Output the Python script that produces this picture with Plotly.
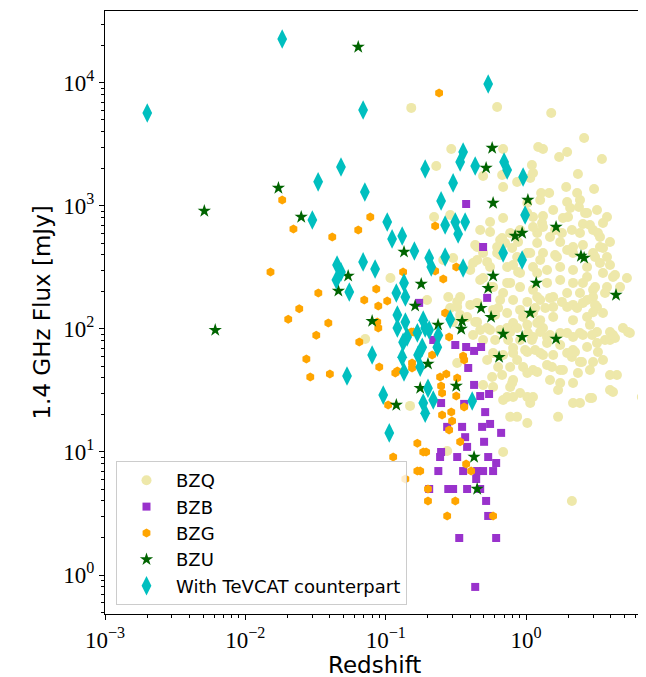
import plotly.graph_objects as go

# ---------------- data ----------------
bzq_z = [0.152, 0.622, 1.51, 2.59, 1.32, 1.72, 1.96, 3.47, 0.293, 0.229, 0.686, 1.22, 1.10, 0.494, 0.675,
         0.686, 0.863, 1.07, 2.34, 1.93, 3.05, 1.28, 1.46, 2.31, 1.12, 1.02, 1.26, 1.56, 1.96, 2.42,
         3.20, 3.77, 3.53, 2.72, 1.99, 1.61, 1.12, 1.30, 0.906, 1.20, 1.48, 1.80, 2.12, 2.42, 3.00,
         3.36, 3.96, 0.471, 0.554, 0.653, 0.770, 0.622, 0.795, 0.221, 0.288, 0.686, 1.02, 2.06, 2.38, 2.63,
         1.32, 1.12, 1.32, 1.83, 2.54, 2.85, 3.25, 0.448, 0.709, 0.877, 1.20, 1.75, 2.16, 2.54, 3.36,
         0.554, 0.675, 1.02, 1.32, 1.66, 1.96, 2.16, 3.00, 3.53, 3.77, 3.36, 2.72, 2.16, 1.75, 1.41,
         1.12, 0.906, 0.733, 0.554, 0.494, 0.448, 0.400, 0.471, 0.582, 0.733, 0.906, 1.12, 1.41, 1.75, 2.16,
         2.72, 3.53, 4.16, 5.23, 4.67, 3.77, 3.00, 2.42, 1.96, 1.56, 1.26, 1.02, 0.808, 0.653, 0.686,
         0.339, 0.279, 0.108, 0.197, 0.434, 0.419, 0.528, 0.653, 0.808, 0.877, 1.20, 0.770, 0.863, 1.07, 0.622,
         0.494, 0.554, 1.61, 1.26, 4.30, 3.96, 3.10, 2.54, 3.10, 0.323, 0.257, 0.302, 0.323, 0.448, 0.582,
         0.733, 0.906, 1.56, 1.96, 2.54, 3.20, 3.53, 2.72, 2.16, 1.56, 1.26, 1.02, 0.808, 0.653, 0.528,
         0.448, 0.380, 4.90, 3.96, 3.20, 2.42, 1.96, 5.49, 3.65, 3.00, 1.80, 2.16, 2.72, 3.10, 1.20,
         1.48, 1.37, 1.16, 2.31, 3.00, 2.85, 1.32, 1.12, 1.41, 2.16, 2.95, 3.65, 4.30, 5.32, 0.632,
         0.602, 0.952, 1.12, 1.20, 0.863, 0.733, 0.554, 0.471, 0.419, 0.494, 0.602, 0.745, 0.906, 1.10, 0.808,
         0.984, 1.16, 0.400, 0.339, 0.288, 0.434, 0.302, 1.41, 1.75, 2.16, 2.72, 3.20, 3.96, 0.0714, 0.770,
         1.03, 1.26, 1.48, 1.75, 2.54, 4.16, 0.686, 0.582, 0.528, 0.632, 0.770, 0.952, 1.12, 0.573, 0.675,
         0.808, 1.02, 0.770, 0.906, 1.02, 1.07, 0.733, 0.494, 0.582, 1.32, 2.12, 2.23, 2.50, 3.00, 3.25,
         1.53, 1.83, 2.34, 4.44, 1.48, 1.75, 2.16, 1.69, 3.96, 4.16, 2.85, 2.16, 2.42, 6.68, 1.69,
         1.12, 0.808, 1.02, 1.26, 1.56, 1.96, 2.42, 3.53, 0.863, 1.41, 1.75, 2.85, 3.96, 1.20, 0.795,
         0.686, 0.808, 2.95, 0.770, 0.863, 1.02, 0.323, 0.149, 0.274, 0.686, 2.12]
bzq_flux = [6270, 6380, 5700, 3570, 2905, 2500, 2750, 2410, 2905, 2115, 2905, 3020, 2155, 1753, 1787,
            1427, 1567, 1690, 1820, 1427, 1375, 1275, 1275, 1275, 1855, 1057, 1120, 928, 1078, 1120,
            928, 814, 727, 877, 814, 638, 814, 727, 638, 603, 560, 603, 638, 603, 638,
            560, 510, 638, 741, 529, 603, 464, 456, 814, 845, 799, 877, 963, 981, 877,
            829, 675, 675, 799, 714, 701, 603, 464, 500, 510, 500, 510, 464, 482, 464,
            615, 549, 415, 415, 385, 439, 415, 415, 456, 385, 344, 319, 302, 319, 302,
            319, 285, 319, 319, 415, 364, 302, 250, 219, 237, 219, 208, 237, 250, 237,
            265, 285, 265, 260, 219, 219, 208, 196, 196, 182, 172, 166, 172, 172, 196,
            182, 182, 260, 172, 482, 344, 351, 400, 331, 291, 285, 237, 385, 415, 415,
            260, 219, 400, 364, 275, 331, 385, 237, 219, 166, 364, 378, 151, 163, 143,
            135, 143, 151, 151, 163, 151, 135, 125, 118, 125, 118, 108, 112, 98, 102,
            114, 125, 102, 94.6, 94.6, 92.7, 92.7, 92.7, 196, 182, 166, 157, 172, 157, 182,
            179, 148, 148, 148, 137, 108, 102, 86, 86, 86, 89.3, 81.4, 84.5, 94.6, 148,
            130, 125, 135, 112, 102, 102, 98, 98, 89.3, 81.4, 81.4, 81.4, 81.4, 81.4, 70.1,
            67.5, 67.5, 157, 130, 148, 114, 114, 76.9, 74.1, 67.5, 71.4, 76.9, 81.4, 83, 94.6,
            92.7, 94.6, 89.3, 92.7, 89.3, 89.3, 61.5, 63.8, 56, 49.1, 49.1, 49.1, 46.4, 40.7, 42.3,
            38.5, 43.9, 33.8, 30.2, 28.0, 25.0, 28.0, 35.1, 33.8, 61.5, 59.2, 65.0, 53.9, 53.9, 65.0,
            49.1, 46.4, 43.9, 42.3, 38.5, 36.4, 36.4, 31.9, 31.9, 30.7, 27.5, 25.0, 25.0, 28.0, 19.3,
            28.0, 63.8, 65.0, 63.8, 61.5, 63.8, 53.9, 56, 56, 50.9, 46.4, 46.4, 42.3, 44.7, 36.4,
            26.5, 28.0, 27.5, 19.3, 19.3, 17.2, 52.9, 23.7, 10.2, 10.0, 4.0]

bzb_z = [0.374, 0.494, 0.528, 0.173, 0.218, 0.313, 0.374, 0.426, 0.478, 0.387, 0.426, 0.471, 0.545, 0.248, 0.362,
         0.511, 0.274, 0.350, 0.486, 0.554, 0.664, 0.368, 0.380, 0.502, 0.248, 0.244, 0.323, 0.537, 0.612, 0.237,
         0.356, 0.448, 0.494, 0.582, 0.441, 0.204, 0.279, 0.302, 0.380, 0.471, 0.519, 0.537, 0.334, 0.612, 0.434]
bzb_flux = [1038, 464, 179, 163, 81.4, 74.1, 71.4, 66.3, 71.4, 48.2, 35.1, 28.5, 29.6, 25.0, 24.6,
            21.1, 16.0, 16.0, 16.0, 16.9, 14.3, 13.2, 11.0, 12.1, 10.0, 9.1, 9.1, 9.1, 8.14, 7.0,
            7.0, 7.0, 7.0, 7.0, 6.03, 5.0, 5.0, 5.0, 5.0, 5.0, 4.0, 3.02, 2.0, 2.0, 0.80]

bzg_z = [0.0183, 0.0220, 0.0416, 0.0151, 0.0331, 0.0242, 0.0202, 0.0390, 0.0320, 0.240, 0.0776, 0.0637, 0.225,
         0.318, 0.225, 0.257, 0.133, 0.0856, 0.0703, 0.0885, 0.1025, 0.0885, 0.087, 0.0648, 0.152, 0.0272,
         0.0290, 0.040, 0.0899, 0.117, 0.121, 0.154, 0.154, 0.104, 0.168, 0.113, 0.252, 0.293, 0.297, 0.362,
         0.283, 0.185, 0.194, 0.339, 0.374, 0.406, 0.168, 0.176, 0.138, 0.200, 0.200, 0.313, 0.274, 0.582,
         0.356, 0.362, 0.244, 0.270, 0.323, 0.318, 0.265, 0.283, 0.214, 0.252, 0.248, 0.157]
bzg_flux = [1120, 650, 560, 291, 196, 146, 120, 112, 89, 8290, 814, 638, 688,
            319, 296, 255, 291, 211, 172, 154, 169, 102, 114, 78.4, 94.6, 57.0,
            40.7, 43.1, 49.1, 43.9, 45.6, 52.9, 48.2, 24.1, 11.8, 9.1, 20.0, 21.1, 17.9, 23.2,
            15.1, 10.0, 10.0, 12.1, 8.0, 7.0, 7.0, 7.0, 6.03, 5.0, 4.0, 4.0, 3.02, 3.02,
            60.3, 56.0, 40.7, 43.1, 40.0, 28.5, 135, 86, 61.5, 30.2, 34.4, 94.6]

bzu_z = [0.0051, 0.0172, 0.0250, 0.0061, 0.0637, 0.573, 0.519, 0.582, 1.03, 0.835, 0.937, 1.635, 2.46, 2.59,
         4.37, 1.18, 0.582, 0.537, 0.478, 0.563, 1.07, 0.135, 0.179, 0.162, 0.054, 0.046, 0.080, 0.350,
         0.345, 0.236, 0.686, 0.937, 1.635, 0.642, 0.200, 0.318, 0.176, 0.119, 0.426, 0.448]
bzu_flux = [910, 1400, 814, 98, 19600, 2960, 2040, 1057, 1120, 570, 603, 675, 392, 378,
            189, 237, 270, 215, 148, 125, 135, 423, 232, 154, 270, 204, 116, 116,
            100, 108, 91, 86, 83, 59, 52, 34.4, 33.1, 24.1, 9.1, 5.0]

tev_z = [0.0020, 0.0183, 0.033, 0.030, 0.069, 0.537, 0.048, 0.071, 0.191, 0.356, 0.339, 0.434, 0.302, 0.697,
         0.733, 0.952, 0.248, 0.984, 0.265, 0.313, 0.368, 0.328, 0.1025, 0.111, 0.131, 0.160, 0.204, 0.211,
         0.265, 0.356, 0.686, 0.937, 0.069, 0.084, 0.045, 0.048, 0.0445, 0.055, 0.119, 0.135, 0.138, 0.121,
         0.138, 0.121, 0.142, 0.133, 0.185, 0.191, 0.168, 0.204, 0.237, 0.288, 0.233, 0.182, 0.170, 0.176,
         0.080, 0.131, 0.135, 0.053, 0.096, 0.200, 0.218, 0.185, 0.191, 0.413, 0.106]
tev_flux = [5700, 22800, 1570, 770, 6030, 9820, 2075, 1300, 2000, 2750, 2280, 2115, 1540, 2280,
            1960, 1720, 1100, 845, 700, 740, 740, 592, 740, 540, 570, 431, 378, 319,
            385, 313, 415, 364, 351, 307, 331, 291, 250, 200, 196, 237, 182, 130,
            114, 102, 86, 78, 118, 102, 93, 98, 89, 120, 71, 71, 61.5, 49,
            61.5, 59, 44.7, 41.5, 29, 33, 26.5, 25, 20.7, 26, 14.3]

x_tick_vals = [1e-3, 1e-2, 1e-1, 1e0]
x_tick_text = ["10<sup>\u22123</sup>", "10<sup>\u22122</sup>", "10<sup>\u22121</sup>", "10<sup>0</sup>"]
y_tick_vals = [1e0, 1e1, 1e2, 1e3, 1e4]
y_tick_text = ["10<sup>0</sup>", "10<sup>1</sup>", "10<sup>2</sup>", "10<sup>3</sup>", "10<sup>4</sup>"]

# ---------------- figure ----------------
fig = go.Figure()
series = [
    ("BZQ", bzq_z, bzq_flux, "circle", 10, "#EEE8AA"),
    ("BZB", bzb_z, bzb_flux, "square", 8, "#9932CC"),
    ("BZG", bzg_z, bzg_flux, "hexagon", 9, "#FFA500"),
    ("BZU", bzu_z, bzu_flux, "star", 10, "#006400"),
    ("With TeVCAT counterpart", tev_z, tev_flux, "diamond-tall", 14, "#00BFBF"),
]
for name, xs, ys, sym, size, color in series:
    fig.add_trace(go.Scatter(
        x=xs, y=ys, mode="markers", name=name, legendgroup=name,
        marker=dict(symbol=sym, size=size, color=color, line=dict(width=0)),
    ))

minor_x = [m * 10.0 ** d for d in range(-3, 1) for m in range(2, 10)]
minor_y = [m * 10.0 ** d for d in range(-1, 5) for m in range(2, 10)]

tick_font = dict(family="Liberation Serif", size=23, color="black")
common = dict(type="log", showline=True, linecolor="black", linewidth=1, mirror=True,
              showgrid=False, zeroline=False, ticks="outside", ticklen=5, tickwidth=1,
              tickcolor="black", tickfont=tick_font, tickmode="array")

# page body adds an 8px offset, so the figure is placed to fit the 646x677 window
fig.update_layout(
    width=638, height=669, autosize=False,
    margin=dict(l=97, r=2, t=3, b=63, pad=0),
    paper_bgcolor="white", plot_bgcolor="white",
    xaxis=dict(range=[-3, 0.84], tickvals=x_tick_vals, ticktext=x_tick_text,
               minor=dict(tickmode="array", tickvals=minor_x, ticks="outside", ticklen=3,
                          tickcolor="black", tickwidth=1, showgrid=False),
               **common),
    yaxis=dict(range=[-0.317, 4.585], tickvals=y_tick_vals, ticktext=y_tick_text,
               minor=dict(tickmode="array", tickvals=minor_y, ticks="outside", ticklen=3,
                          tickcolor="black", tickwidth=1, showgrid=False),
               **common),
    legend=dict(x=0.0204, y=0.0149, xanchor="left", yanchor="bottom",
                bgcolor="rgba(255,255,255,0.8)", bordercolor="#cccccc", borderwidth=1,
                font=dict(family="DejaVu Sans", size=18, color="black"),
                itemwidth=49, tracegroupgap=0),
    annotations=[
        dict(text="Redshift", xref="paper", yref="paper", x=0.5, y=-0.0846,
             xanchor="center", yanchor="middle", showarrow=False,
             font=dict(family="DejaVu Sans", size=23, color="black")),
        dict(text="1.4 GHz Flux [mJy]", xref="paper", yref="paper", x=-0.1187, y=0.5,
             xanchor="center", yanchor="middle", textangle=-90, showarrow=False,
             font=dict(family="DejaVu Sans", size=23, color="black")),
    ],
)

fig.write_html("out.html")
